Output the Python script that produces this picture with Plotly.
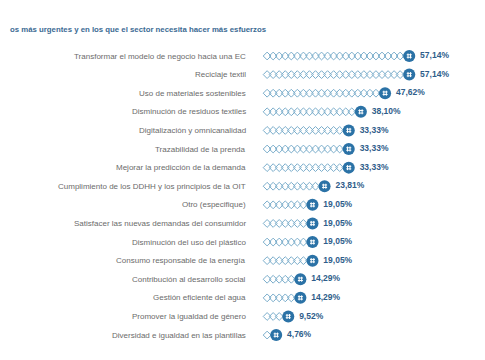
import numpy as np
import plotly.graph_objects as go

title_text = "os más urgentes y en los que el sector necesita hacer más esfuerzos"

categories = [
    "Transformar el modelo de negocio hacia una EC",
    "Reciclaje textil",
    "Uso de materiales sostenibles",
    "Disminución de residuos textiles",
    "Digitalización y omnicanalidad",
    "Trazabilidad de la prenda",
    "Mejorar la predicción de la demanda",
    "Cumplimiento de los DDHH y los principios de la OIT",
    "Otro (especifique)",
    "Satisfacer las nuevas demandas del consumidor",
    "Disminución del uso del plástico",
    "Consumo responsable de la energía",
    "Contribución al desarrollo social",
    "Gestión eficiente del agua",
    "Promover la igualdad de género",
    "Diversidad e igualdad en las plantillas",
]
values = [57.14, 57.14, 47.62, 38.10, 33.33, 33.33, 33.33, 23.81,
          19.05, 19.05, 19.05, 19.05, 14.29, 14.29, 9.52, 4.76]

unit = 4.76 / 2  # one diamond per half respondent share

FONT = "Liberation Sans, Arial, sans-serif"
LABEL_C = "#6b6b6b"
VAL_C = "#2e5d8a"
CIRCLE_C = "#2b72a6"
DIAM_C = "#7aadcb"

rows = list(range(len(categories)))

# diamonds
dx, dy = [], []
for r, v in zip(rows, values):
    k = 0.5
    while k * unit < v - unit * 0.5:
        dx.append(k * unit)
        dy.append(r)
        k += 1

fig = go.Figure()
fig.add_trace(go.Scatter(
    x=dx, y=dy, mode="markers", hoverinfo="skip",
    marker=dict(symbol="diamond-open", size=6, color=DIAM_C, line=dict(width=1, color=DIAM_C)),
))
fig.add_trace(go.Scatter(
    x=values, y=rows, mode="markers+text",
    marker=dict(symbol="circle", size=12, color=CIRCLE_C, line=dict(width=0)),
    text=[" " + f"{v:.2f}".replace(".", ",") + "%" for v in values],
    textposition="middle right",
    textfont=dict(family=FONT, size=8.5, color=VAL_C, weight="bold"),
))
fig.add_trace(go.Scatter(
    x=values, y=rows, mode="markers", hoverinfo="skip",
    marker=dict(symbol="hash-open", size=5, color="white", line=dict(width=1, color="white")),
))

for r, c in zip(rows, categories):
    fig.add_annotation(x=-6.3, y=r, text=c, showarrow=False, xanchor="right",
                       yanchor="middle", font=dict(family=FONT, size=8, color=LABEL_C))

fig.add_annotation(xref="paper", yref="paper", x=0, y=1 - 21 / 360, text=title_text,
                   showarrow=False, xanchor="left", yanchor="middle",
                   font=dict(family=FONT, size=7.8, color="#3b6a93", weight="bold"))

fig.update_layout(
    width=485, height=360,
    margin=dict(l=0, r=0, t=0, b=0),
    paper_bgcolor="white", plot_bgcolor="white",
    showlegend=False,
    xaxis=dict(range=[-100.8, 90.1], visible=False, fixedrange=True),
    yaxis=dict(range=[16.77, -2.58], visible=False, fixedrange=True),
)

fig.write_html("out.html")
